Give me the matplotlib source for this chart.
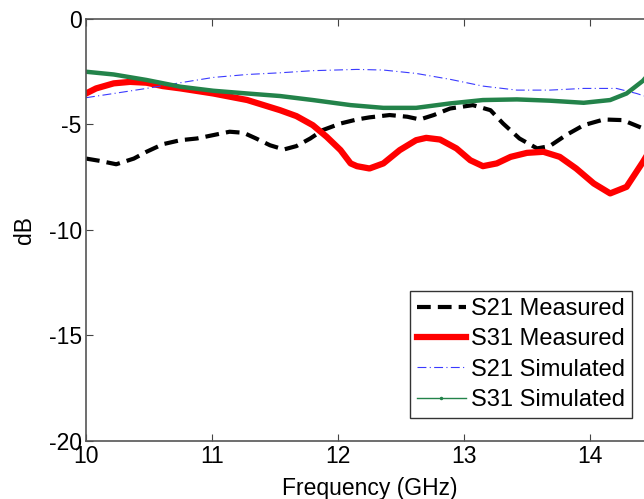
import matplotlib
matplotlib.use('Agg')
import matplotlib.pyplot as plt

plt.rcParams['font.family'] = ['Liberation Sans', 'DejaVu Sans']
plt.rcParams['axes.unicode_minus'] = False

# values (freq in GHz, level in dB)
f_s21_meas = [10.0, 10.11, 10.24, 10.38, 10.48, 10.61, 10.75, 10.88, 11.01, 11.14, 11.25, 11.35,
              11.46, 11.57, 11.67, 11.78, 11.88, 12.02, 12.15, 12.25, 12.41, 12.55, 12.65, 12.76,
              12.89, 13.07, 13.21, 13.31, 13.44, 13.58, 13.68, 13.81, 13.95, 14.11, 14.26, 14.42,
              14.5]
s21_meas = [-6.63, -6.74, -6.90, -6.63, -6.31, -5.95, -5.76, -5.68, -5.52, -5.36, -5.41, -5.68,
            -6.00, -6.20, -6.04, -5.68, -5.28, -4.97, -4.78, -4.68, -4.57, -4.65, -4.78, -4.57,
            -4.26, -4.10, -4.34, -4.97, -5.68, -6.15, -6.04, -5.52, -5.05, -4.78, -4.81, -5.20,
            -5.5]

f_s31_meas = [10.0, 10.08, 10.22, 10.35, 10.48, 10.61, 10.75, 11.01, 11.28, 11.54, 11.67, 11.80,
              11.91, 12.02, 12.10, 12.15, 12.25, 12.36, 12.49, 12.62, 12.70, 12.81, 12.94, 13.05,
              13.15, 13.26, 13.37, 13.50, 13.63, 13.76, 13.89, 14.03, 14.16, 14.29, 14.42, 14.5]
s31_meas = [-3.55, -3.31, -3.07, -3.00, -3.04, -3.20, -3.31, -3.55, -3.86, -4.34, -4.62, -5.05,
            -5.60, -6.23, -6.86, -6.99, -7.10, -6.86, -6.23, -5.76, -5.65, -5.73, -6.15, -6.71,
            -6.99, -6.86, -6.55, -6.36, -6.31, -6.55, -7.10, -7.81, -8.28, -7.97, -6.79, -6.0]

f_s21_sim = [10.0, 10.22, 10.48, 10.75, 11.01, 11.28, 11.54, 11.80, 12.15, 12.36, 12.62, 12.89,
             13.15, 13.42, 13.68, 13.95, 14.21, 14.37, 14.5]
s21_sim = [-3.75, -3.55, -3.31, -3.04, -2.79, -2.65, -2.57, -2.47, -2.41, -2.44, -2.60, -2.88,
           -3.20, -3.39, -3.39, -3.31, -3.31, -3.55, -3.8]

f_s31_sim = [10.0, 10.22, 10.48, 10.75, 11.01, 11.28, 11.54, 11.80, 12.10, 12.36, 12.62, 12.89,
             13.15, 13.42, 13.68, 13.95, 14.16, 14.29, 14.42, 14.5]
s31_sim = [-2.52, -2.65, -2.91, -3.23, -3.42, -3.55, -3.67, -3.86, -4.10, -4.23, -4.23, -4.02,
           -3.86, -3.83, -3.89, -3.99, -3.86, -3.55, -2.95, -2.4]

fig = plt.figure(figsize=(6.44, 4.99), dpi=100)
ax = fig.add_axes([86/644, 58/499, 567/644, 422.5/499])

ax.plot(f_s21_meas, s21_meas, color='black', lw=3, ls=(0, (3.3, 1.7)), label='S21 Measured')
ax.plot(f_s31_meas, s31_meas, color='#ff0000', lw=4.5, label='S31 Measured')
ax.plot(f_s21_sim, s21_sim, color='#3a3aff', lw=0.8, ls=(0, (8, 3, 1, 3)), label='S21 Simulated')
ax.plot(f_s31_sim, s31_sim, color='#23834a', lw=3.2, label='_nolegend_')
ax.plot(f_s31_sim, s31_sim, color='#23834a', lw=1, marker='.', markersize=3,
        markevery=[], label='S31 Simulated')

ax.set_xlim(10, 14.5)
ax.set_ylim(-20, 0)
ax.set_xticks([10, 11, 12, 13, 14])
ax.set_yticks([-20, -15, -10, -5, 0])
ax.tick_params(direction='in', top=True, right=True, length=5, labelsize=16.5,
               color='#444444', pad=3)
for sp in ax.spines.values():
    sp.set_color('#555555')
    sp.set_linewidth(1.2)

ax.set_xlabel('Frequency (GHz)', fontsize=16.5, labelpad=6)
ax.set_ylabel('dB', fontsize=16.5, labelpad=9)

leg = ax.legend(loc='lower right', bbox_to_anchor=(632/644, 81/499),
                bbox_transform=fig.transFigure, borderaxespad=0, fontsize=17,
                fancybox=False, edgecolor='#333333', framealpha=1,
                handlelength=2.1, handletextpad=0.2, labelspacing=0.35, borderpad=0.3)
leg.get_frame().set_linewidth(1.0)

fig.savefig('out.png', dpi=100)
